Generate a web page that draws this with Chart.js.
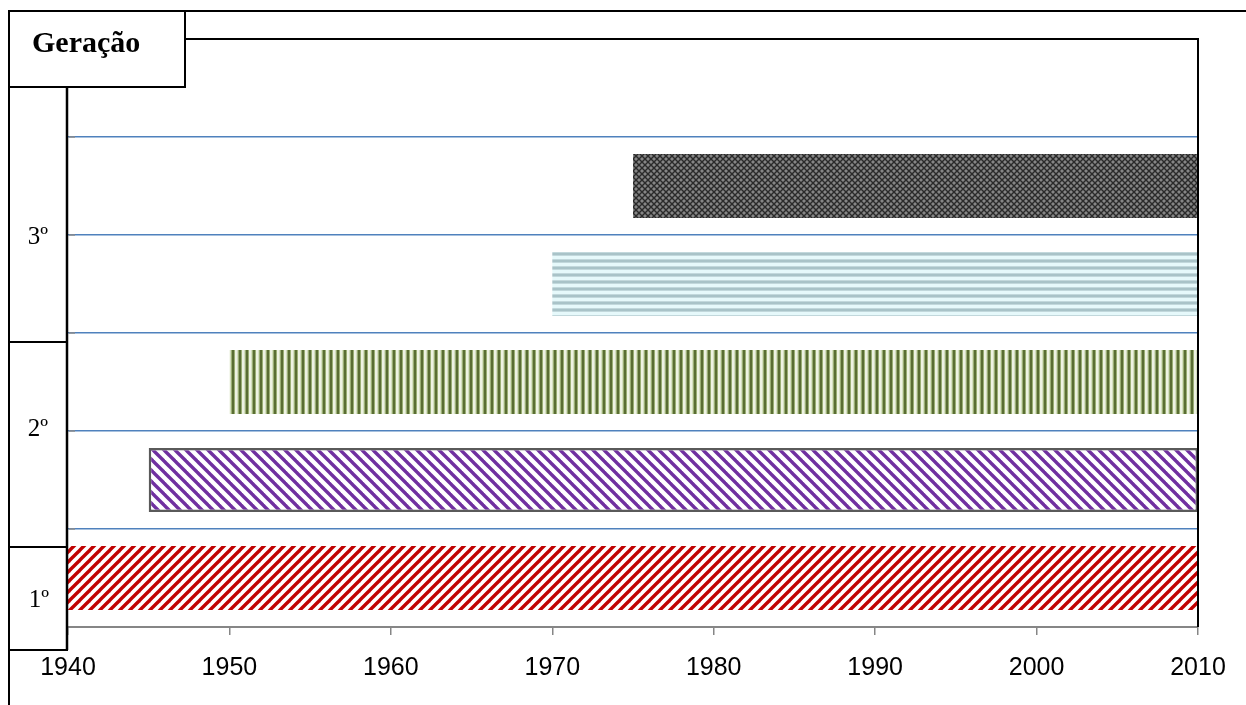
<!DOCTYPE html>
<html>
<head>
<meta charset="utf-8">
<script src="https://cdn.jsdelivr.net/npm/chart.js@4.4.1/dist/chart.umd.min.js"></script>
<style>
  html, body { margin: 0; padding: 0; background: #ffffff; }
  #wrap { width: 1246px; height: 705px; position: relative; }
</style>
</head>
<body>
<div id="wrap"><canvas id="c"></canvas></div>
<script>
// ---- data ----
const categories = ['', 'Geração 3b', 'Geração 3a', 'Geração 2b', 'Geração 2a', 'Geração 1'];
const startYears = [null, 1975, 1970, 1950, 1945, 1940];
const endYears   = [null, 2010, 2010, 2010, 2010, 2010];
const xTicks = [1940, 1950, 1960, 1970, 1980, 1990, 2000, 2010];
const groupLabels = ['3º', '2º', '1º'];
const titleText = 'Geração';

// ---- patterns ----
function makeTile(w, h, draw) {
  const cv = document.createElement('canvas');
  cv.width = w; cv.height = h;
  const g = cv.getContext('2d');
  draw(g, w, h);
  return g.createPattern(cv, 'repeat');
}
function diag(color, s, lw, dir) {
  return makeTile(s, s, (g, w, h) => {
    g.fillStyle = '#ffffff'; g.fillRect(0, 0, w, h);
    g.strokeStyle = color; g.lineWidth = lw; g.lineCap = 'square';
    const segs = dir > 0
      ? [[0, s, s, 0], [-s / 2, s / 2, s / 2, -s / 2], [s / 2, 3 * s / 2, 3 * s / 2, s / 2]]
      : [[0, 0, s, s], [-s / 2, s / 2, s / 2, 3 * s / 2], [s / 2, -s / 2, 3 * s / 2, s / 2]];
    segs.forEach(([a, b, c, d]) => { g.beginPath(); g.moveTo(a, b); g.lineTo(c, d); g.stroke(); });
  });
}
const redPat = diag('#C00000', 10, 3.4, 1);
const purplePat = diag('#7030A0', 11, 3.4, -1);
const greenPat = makeTile(7, 1, (g) => {
  g.fillStyle = '#EEF3E2'; g.fillRect(0, 0, 7, 1);
  g.fillStyle = '#9AAE74'; g.fillRect(0, 0, 1, 1);
  g.fillStyle = '#5A6E33'; g.fillRect(1, 0, 2, 1);
  g.fillStyle = '#9AAE74'; g.fillRect(3, 0, 1, 1);
  g.fillStyle = '#D4DEC0'; g.fillRect(6, 0, 1, 1);
});
const bluePat = makeTile(1, 7, (g) => {
  g.fillStyle = '#E6F9FB'; g.fillRect(0, 0, 1, 7);
  g.fillStyle = '#C2D8DC'; g.fillRect(0, 0, 1, 1);
  g.fillStyle = '#A9C3C8'; g.fillRect(0, 1, 1, 2);
  g.fillStyle = '#C2D8DC'; g.fillRect(0, 3, 1, 1);
});
const grayPat = makeTile(6, 6, (g) => {
  g.fillStyle = '#858585'; g.fillRect(0, 0, 6, 6);
  g.strokeStyle = '#2A2A2A'; g.lineWidth = 1.4;
  [[0, 0, 6, 6], [0, 6, 6, 0], [-3, 3, 3, -3], [3, 9, 9, 3], [-3, 3, 3, 9], [3, -3, 9, 3]].forEach(([a, b, c, d]) => {
    g.beginPath(); g.moveTo(a, b); g.lineTo(c, d); g.stroke();
  });
});

const fills = ['rgba(0,0,0,0)', grayPat, bluePat, greenPat, purplePat, redPat];
const borders = ['rgba(0,0,0,0)', 'rgba(0,0,0,0)', 'rgba(0,0,0,0)', 'rgba(0,0,0,0)', '#5A5A5A', 'rgba(0,0,0,0)'];
const borderWidths = [0, 0, 0, 0, 2.5, 0];

// ---- decoration plugin (frames, boxes, labels) ----
const deco = {
  id: 'deco',
  afterDraw(chart) {
    const ctx = chart.ctx;
    const ca = chart.chartArea;
    ctx.save();
    ctx.strokeStyle = '#000000';
    ctx.lineWidth = 2;
    // outer frame
    ctx.beginPath();
    ctx.moveTo(8, 11); ctx.lineTo(1246, 11);
    ctx.moveTo(9, 11); ctx.lineTo(9, 705);
    ctx.stroke();
    // inner frame top & right
    ctx.beginPath();
    ctx.moveTo(185, 39); ctx.lineTo(ca.right, 39);
    ctx.moveTo(ca.right, 38); ctx.lineTo(ca.right, ca.bottom);
    ctx.stroke();
    // title box
    ctx.fillStyle = '#ffffff';
    ctx.fillRect(9, 11, 176, 76);
    ctx.strokeRect(9, 11, 176, 76);
    ctx.fillStyle = '#000000';
    ctx.font = 'bold 30px "Liberation Serif", "Times New Roman", serif';
    ctx.textAlign = 'left';
    ctx.textBaseline = 'alphabetic';
    ctx.fillText(titleText, 32, 52);
    // group boxes
    const boxes = [[87, 342], [342, 547], [547, 650]];
    const labelPos = [[38, 244], [38, 436], [39, 607]];
    ctx.font = '25px "Liberation Serif", "Times New Roman", serif';
    ctx.textAlign = 'center';
    boxes.forEach(([y0, y1], i) => {
      ctx.strokeRect(9, y0, 58, y1 - y0);
      ctx.fillText(groupLabels[i], labelPos[i][0], labelPos[i][1]);
    });
    // y axis line
    ctx.lineWidth = 2.5;
    ctx.beginPath();
    ctx.moveTo(67, 87); ctx.lineTo(67, 650);
    ctx.stroke();
    // small gray stubs at gridlines
    const ys = chart.scales.y;
    ctx.strokeStyle = '#8C8C8C';
    ctx.lineWidth = 1.5;
    for (let i = 1; i < categories.length; i++) {
      const y = (ys.getPixelForTick(i - 1) + ys.getPixelForTick(i)) / 2;
      ctx.beginPath(); ctx.moveTo(69, y); ctx.lineTo(75, y); ctx.stroke();
    }
    ctx.restore();
  }
};

new Chart(document.getElementById('c'), {
  type: 'bar',
  data: {
    labels: categories,
    datasets: [{
      data: categories.map((_, i) => startYears[i] === null ? null : [startYears[i], endYears[i]]),
      backgroundColor: fills,
      borderColor: borders,
      borderWidth: borderWidths,
      borderSkipped: false,
      categoryPercentage: 1,
      barPercentage: 0.653
    }]
  },
  options: {
    indexAxis: 'y',
    responsive: true,
    maintainAspectRatio: false,
    animation: false,
    layout: { padding: { left: 68, right: 48, top: 39, bottom: 0 } },
    plugins: { legend: { display: false }, tooltip: { enabled: false }, title: { display: false } },
    scales: {
      x: {
        type: 'linear',
        min: xTicks[0],
        max: xTicks[xTicks.length - 1],
        afterBuildTicks: (s) => { s.ticks = xTicks.map(v => ({ value: v })); },
        afterFit: (s) => { s.height = 78; },
        ticks: {
          color: '#000000',
          font: { family: '"Liberation Sans", Arial, sans-serif', size: 25 },
          padding: 18,
          maxRotation: 0,
          autoSkip: false,
          callback: (v) => String(v)
        },
        grid: { drawOnChartArea: false, drawTicks: true, tickLength: 8, color: '#868686', lineWidth: 1.5 },
        border: { display: true, color: '#868686', width: 2 }
      },
      y: {
        type: 'category',
        afterFit: (s) => { s.width = 0; },
        ticks: { display: false },
        grid: {
          offset: true,
          drawTicks: false,
          lineWidth: 1.5,
          color: (c) => (c.index === 0 || c.index === categories.length) ? 'rgba(0,0,0,0)' : '#4F81BD'
        },
        border: { display: false }
      }
    }
  },
  plugins: [deco]
});
</script>
</body>
</html>
